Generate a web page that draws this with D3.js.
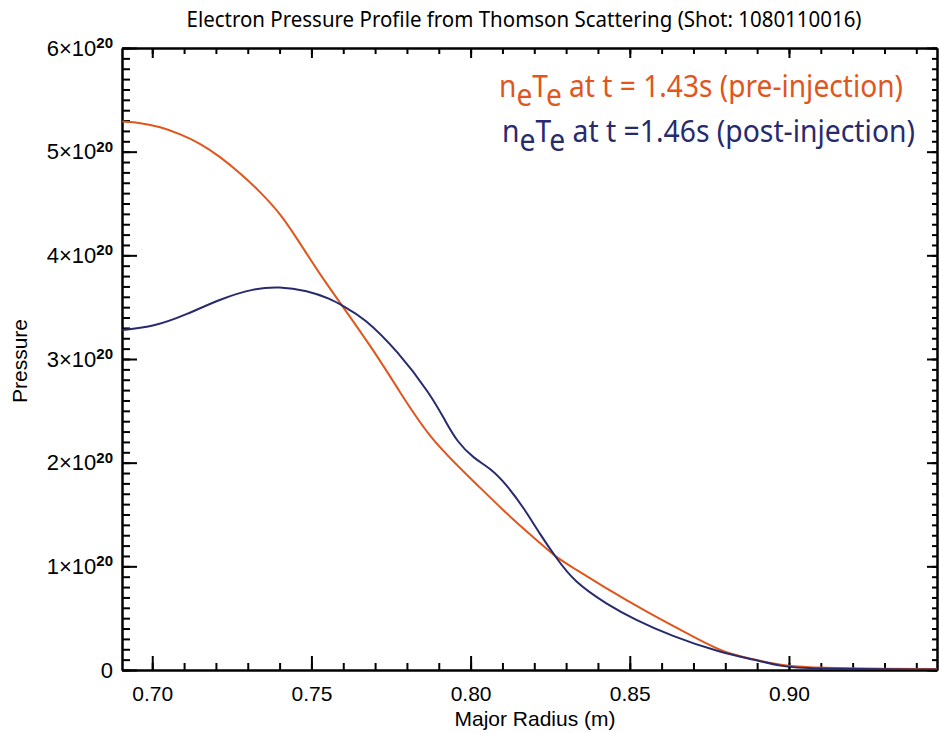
<!DOCTYPE html>
<html>
<head>
<meta charset="utf-8">
<script src="https://cdn.jsdelivr.net/npm/d3@7"></script>
<style>
  body { margin: 0; background: #fff; }
  text { white-space: pre; }
</style>
</head>
<body>
<div class="container"></div>
<script>
// values, pressure in units of 1e20
var radiusPre = [0.6906, 0.6962, 0.7025, 0.7088, 0.7151, 0.7214, 0.7277, 0.7340, 0.7403, 0.7455,
  0.7528, 0.7600, 0.7696, 0.7770, 0.7874, 0.8010, 0.8115, 0.8220, 0.8267, 0.8325, 0.8430, 0.8535,
  0.8734, 0.8797, 0.8912, 0.8985, 0.9100, 0.9300, 0.9465];
var pressurePre = [5.29, 5.28, 5.24, 5.17, 5.08, 4.95, 4.79, 4.61, 4.40, 4.16,
  3.81, 3.50, 3.08, 2.72, 2.22, 1.82, 1.50, 1.22, 1.09, 0.98, 0.78, 0.59,
  0.264, 0.167, 0.085, 0.04, 0.02, 0.012, 0.01];

var radiusPost = [0.6906, 0.7004, 0.7109, 0.7214, 0.7319, 0.7398, 0.7487, 0.7560, 0.7600, 0.7665,
  0.7770, 0.7874, 0.7921, 0.7958, 0.8010, 0.8063, 0.8115, 0.8168, 0.8220, 0.8267, 0.8325, 0.8430,
  0.8514, 0.8629, 0.8786, 0.8891, 0.8975, 0.9050, 0.9465];
var pressurePost = [3.28, 3.31, 3.43, 3.58, 3.68, 3.70, 3.66, 3.58, 3.51, 3.40,
  3.08, 2.66, 2.40, 2.20, 2.04, 1.945, 1.78, 1.56, 1.30, 1.09, 0.85, 0.63,
  0.49, 0.33, 0.167, 0.10, 0.036, 0.01, 0.005];

var xMajorTicks = [0.70, 0.75, 0.80, 0.85, 0.90];
var xMinorTicks = [0.70, 0.71, 0.72, 0.73, 0.74, 0.75, 0.76, 0.77, 0.78, 0.79, 0.80, 0.81, 0.82,
  0.83, 0.84, 0.85, 0.86, 0.87, 0.88, 0.89, 0.90, 0.91, 0.92, 0.93, 0.94];
var yMajorTicks = [0, 1, 2, 3, 4, 5, 6];
var yMinorTicks = d3.range(0, 61).map(function(i){ return i / 10; });

var legendLabels = [' at t = 1.43s (pre-injection)', ' at t =1.46s (post-injection)'];
var colors = ['#e0561d', '#282a6e'];

var W = 939, H = 733;
var plot = { left: 122, right: 937, top: 48, bottom: 670 };

var svg = d3.select('.container').append('svg')
  .attr('width', W).attr('height', H)
  .style('font-family', '"Liberation Sans", Arial, sans-serif');

var x = d3.scaleLinear().domain([0.6905, 0.9465]).range([plot.left, plot.right]);
var y = d3.scaleLinear().domain([0, 6]).range([plot.bottom, plot.top]);

// title
svg.append('text')
  .attr('x', 524).attr('y', 27)
  .attr('text-anchor', 'middle')
  .style('font-family', '"Noto Sans", sans-serif')
  .style('font-size', '21px')
  .attr('textLength', 675).attr('lengthAdjust', 'spacingAndGlyphs')
  .text('Electron Pressure Profile from Thomson Scattering (Shot: 1080110016)');

function styleAxis(g){
  g.selectAll('path, line').attr('stroke', '#000').attr('stroke-width', 2);
  g.selectAll('text').attr('fill', '#000');
}

// minor ticks
svg.append('g').attr('transform', 'translate(0,' + plot.bottom + ')')
  .call(d3.axisBottom(x).tickValues(xMinorTicks).tickSize(-7).tickSizeOuter(0).tickFormat(''))
  .call(styleAxis);
svg.append('g').attr('transform', 'translate(0,' + plot.top + ')')
  .call(d3.axisTop(x).tickValues(xMinorTicks).tickSize(-6).tickSizeOuter(0).tickFormat(''))
  .call(styleAxis);
svg.append('g').attr('transform', 'translate(' + plot.left + ',0)')
  .call(d3.axisLeft(y).tickValues(yMinorTicks).tickSize(-8).tickSizeOuter(0).tickFormat(''))
  .call(styleAxis);
svg.append('g').attr('transform', 'translate(' + plot.right + ',0)')
  .call(d3.axisRight(y).tickValues(yMinorTicks).tickSize(-5).tickSizeOuter(0).tickFormat(''))
  .call(styleAxis);

// major ticks + labels
var xAxis = svg.append('g').attr('transform', 'translate(0,' + plot.bottom + ')')
  .call(d3.axisBottom(x).tickValues(xMajorTicks).tickSize(-14).tickSizeOuter(0)
    .tickPadding(16).tickFormat(d3.format('.2f')))
  .call(styleAxis);
xAxis.selectAll('text').style('font-size', '21px');

svg.append('g').attr('transform', 'translate(0,' + plot.top + ')')
  .call(d3.axisTop(x).tickValues(xMajorTicks).tickSize(-10).tickSizeOuter(0).tickFormat(''))
  .call(styleAxis);

var yAxis = svg.append('g').attr('transform', 'translate(' + plot.left + ',0)')
  .call(d3.axisLeft(y).tickValues(yMajorTicks).tickSize(-15).tickSizeOuter(0).tickPadding(9))
  .call(styleAxis);
yAxis.selectAll('text').style('font-size', '22px').each(function(d){
  var t = d3.select(this).text('');
  if (d === 0) { t.text('0'); return; }
  t.append('tspan').text(d + '×10');
  t.append('tspan').attr('dy', '-0.5em').style('font-size', '15px').style('font-weight', 'bold').text('20');
});

svg.append('g').attr('transform', 'translate(' + plot.right + ',0)')
  .call(d3.axisRight(y).tickValues(yMajorTicks).tickSize(-10).tickSizeOuter(0).tickFormat(''))
  .call(styleAxis);

// axis titles
svg.append('text')
  .attr('x', 535).attr('y', 726)
  .attr('text-anchor', 'middle')
  .style('font-size', '21px')
  .text('Major Radius (m)');

svg.append('text')
  .attr('transform', 'translate(27,361) rotate(-90)')
  .attr('text-anchor', 'middle')
  .style('font-size', '21px')
  .text('Pressure');

// curves
svg.append('clipPath').attr('id', 'plotClip')
  .append('rect')
  .attr('x', plot.left).attr('y', plot.top)
  .attr('width', plot.right - plot.left).attr('height', plot.bottom - plot.top);

var line = d3.line()
  .x(function(d){ return x(d[0]); })
  .y(function(d){ return y(d[1]); })
  .curve(d3.curveBasis);

var series = [d3.zip(radiusPre, pressurePre), d3.zip(radiusPost, pressurePost)];

svg.append('g').attr('clip-path', 'url(#plotClip)')
  .selectAll('path')
  .data(series)
  .enter().append('path')
  .attr('d', line)
  .attr('fill', 'none')
  .attr('stroke', function(d, i){ return colors[i]; })
  .attr('stroke-width', 2);

// legend
var legendPos = [{ x: 499, y: 97, w: 404 }, { x: 502, y: 142, w: 413 }];
var legend = svg.selectAll('.legend')
  .data(legendLabels)
  .enter().append('text')
  .attr('class', 'legend')
  .attr('x', function(d, i){ return legendPos[i].x; })
  .attr('y', function(d, i){ return legendPos[i].y; })
  .attr('textLength', function(d, i){ return legendPos[i].w; })
  .attr('lengthAdjust', 'spacingAndGlyphs')
  .attr('fill', function(d, i){ return colors[i]; })
  .style('font-family', '"Noto Sans", sans-serif')
  .style('font-size', '30px');

legend.each(function(d){
  var t = d3.select(this);
  t.append('tspan').text('n');
  t.append('tspan').attr('dy', 9).text('e');
  t.append('tspan').attr('dy', -9).text('T');
  t.append('tspan').attr('dy', 9).text('e');
  t.append('tspan').attr('dy', -9).text(d);
});
</script>
</body>
</html>
